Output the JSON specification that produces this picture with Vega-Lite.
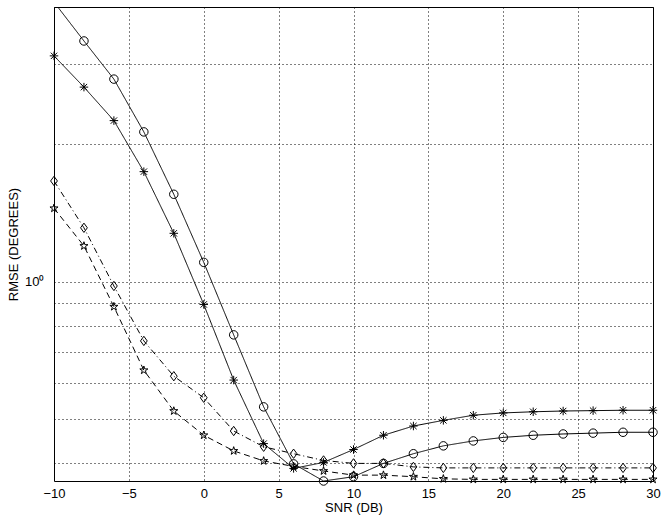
{
  "$schema": "https://vega.github.io/schema/vega-lite/v6.json",
  "width": 599,
  "height": 474,
  "autosize": {"type": "none"},
  "padding": {"left": 54, "top": 7, "right": 9, "bottom": 37},
  "background": "white",
  "config": {
    "view": {"stroke": "black", "strokeWidth": 1},
    "font": "Liberation Sans",
    "axis": {
      "labelFont": "Liberation Sans", "titleFont": "Liberation Sans",
      "labelColor": "black", "titleColor": "black",
      "labelFontSize": 13, "titleFontSize": 13, "titleFontWeight": "normal",
      "tickColor": "black", "tickWidth": 1, "domain": false,
      "gridColor": "black", "gridOpacity": 1, "gridDash": [1, 3], "gridWidth": 1
    }
  },
  "data": {"values": [
    {"series": "P1", "snr": -10, "rmse": 1.449}, {"series": "P1", "snr": -8, "rmse": 1.198}, {"series": "P1", "snr": -6, "rmse": 0.882},
    {"series": "P1", "snr": -4, "rmse": 0.64}, {"series": "P1", "snr": -2, "rmse": 0.521}, {"series": "P1", "snr": 0, "rmse": 0.461},
    {"series": "P1", "snr": 2, "rmse": 0.426}, {"series": "P1", "snr": 4, "rmse": 0.405}, {"series": "P1", "snr": 6, "rmse": 0.394},
    {"series": "P1", "snr": 8, "rmse": 0.385}, {"series": "P1", "snr": 10, "rmse": 0.377}, {"series": "P1", "snr": 12, "rmse": 0.377},
    {"series": "P1", "snr": 14, "rmse": 0.374}, {"series": "P1", "snr": 16, "rmse": 0.370}, {"series": "P1", "snr": 18, "rmse": 0.369},
    {"series": "P1", "snr": 20, "rmse": 0.369}, {"series": "P1", "snr": 22, "rmse": 0.369}, {"series": "P1", "snr": 24, "rmse": 0.369},
    {"series": "P1", "snr": 26, "rmse": 0.369}, {"series": "P1", "snr": 28, "rmse": 0.369}, {"series": "P1", "snr": 30, "rmse": 0.369},
    {"series": "P2", "snr": -10, "rmse": 1.663}, {"series": "P2", "snr": -8, "rmse": 1.313}, {"series": "P2", "snr": -6, "rmse": 0.979},
    {"series": "P2", "snr": -4, "rmse": 0.742}, {"series": "P2", "snr": -2, "rmse": 0.621}, {"series": "P2", "snr": 0, "rmse": 0.557},
    {"series": "P2", "snr": 2, "rmse": 0.471}, {"series": "P2", "snr": 4, "rmse": 0.435}, {"series": "P2", "snr": 6, "rmse": 0.420},
    {"series": "P2", "snr": 8, "rmse": 0.406}, {"series": "P2", "snr": 10, "rmse": 0.400}, {"series": "P2", "snr": 12, "rmse": 0.400},
    {"series": "P2", "snr": 14, "rmse": 0.393}, {"series": "P2", "snr": 16, "rmse": 0.391}, {"series": "P2", "snr": 18, "rmse": 0.391},
    {"series": "P2", "snr": 20, "rmse": 0.391}, {"series": "P2", "snr": 22, "rmse": 0.391}, {"series": "P2", "snr": 24, "rmse": 0.391},
    {"series": "P2", "snr": 26, "rmse": 0.391}, {"series": "P2", "snr": 28, "rmse": 0.391}, {"series": "P2", "snr": 30, "rmse": 0.391},
    {"series": "E1", "snr": -10, "rmse": 3.126}, {"series": "E1", "snr": -8, "rmse": 2.67}, {"series": "E1", "snr": -6, "rmse": 2.255},
    {"series": "E1", "snr": -4, "rmse": 1.743}, {"series": "E1", "snr": -2, "rmse": 1.277}, {"series": "E1", "snr": 0, "rmse": 0.892},
    {"series": "E1", "snr": 2, "rmse": 0.609}, {"series": "E1", "snr": 4, "rmse": 0.442}, {"series": "E1", "snr": 6, "rmse": 0.390},
    {"series": "E1", "snr": 8, "rmse": 0.402}, {"series": "E1", "snr": 10, "rmse": 0.429}, {"series": "E1", "snr": 12, "rmse": 0.461},
    {"series": "E1", "snr": 14, "rmse": 0.483}, {"series": "E1", "snr": 16, "rmse": 0.497}, {"series": "E1", "snr": 18, "rmse": 0.510},
    {"series": "E1", "snr": 20, "rmse": 0.516}, {"series": "E1", "snr": 22, "rmse": 0.519}, {"series": "E1", "snr": 24, "rmse": 0.521},
    {"series": "E1", "snr": 26, "rmse": 0.522}, {"series": "E1", "snr": 28, "rmse": 0.523}, {"series": "E1", "snr": 30, "rmse": 0.523},
    {"series": "E2", "snr": -10, "rmse": 4.1}, {"series": "E2", "snr": -8, "rmse": 3.37}, {"series": "E2", "snr": -6, "rmse": 2.78},
    {"series": "E2", "snr": -4, "rmse": 2.13}, {"series": "E2", "snr": -2, "rmse": 1.555}, {"series": "E2", "snr": 0, "rmse": 1.103},
    {"series": "E2", "snr": 2, "rmse": 0.765}, {"series": "E2", "snr": 4, "rmse": 0.532}, {"series": "E2", "snr": 6, "rmse": 0.399},
    {"series": "E2", "snr": 8, "rmse": 0.366}, {"series": "E2", "snr": 10, "rmse": 0.374}, {"series": "E2", "snr": 12, "rmse": 0.400},
    {"series": "E2", "snr": 14, "rmse": 0.420}, {"series": "E2", "snr": 16, "rmse": 0.437}, {"series": "E2", "snr": 18, "rmse": 0.448},
    {"series": "E2", "snr": 20, "rmse": 0.456}, {"series": "E2", "snr": 22, "rmse": 0.461}, {"series": "E2", "snr": 24, "rmse": 0.464},
    {"series": "E2", "snr": 26, "rmse": 0.466}, {"series": "E2", "snr": 28, "rmse": 0.468}, {"series": "E2", "snr": 30, "rmse": 0.468}
  ]},
  "encoding": {
    "x": {"field": "snr", "type": "quantitative",
      "scale": {"domain": [-10, 30], "nice": false, "zero": false},
      "axis": {"values": [-10, -5, 0, 5, 10, 15, 20, 25, 30], "title": "SNR (DB)", "grid": true,
        "ticks": false, "labelPadding": 6, "titlePadding": 1, "labelFlush": false}},
    "y": {"field": "rmse", "type": "quantitative",
      "scale": {"type": "log", "domain": [0.366, 4], "nice": false},
      "axis": {"values": [0.4, 0.5, 0.6, 0.7, 0.8, 0.9, 1, 2, 3, 4], "labelExpr": "datum.value == 1 ? '10⁰' : ''",
        "title": "RMSE (DEGREES)", "grid": true, "ticks": false, "labelPadding": 10, "titlePadding": 4}}
  },
  "layer": [
    {
      "mark": {"type": "line", "color": "black", "strokeWidth": 1, "clip": true},
      "encoding": {
        "strokeDash": {"field": "series", "type": "nominal",
          "scale": {"domain": ["P1", "P2", "E1", "E2"], "range": [[6, 4], [6, 3, 1, 3], [1, 0], [1, 0]]},
          "legend": null}
      }
    },
    {
      "transform": [{"filter": "datum.rmse <= 4"}],
      "mark": {"type": "point", "filled": false, "color": "black", "strokeWidth": 1, "size": 72, "opacity": 1, "clip": false},
      "encoding": {
        "shape": {"field": "series", "type": "nominal",
          "scale": {"domain": ["P1", "P2", "E1", "E2"], "range": [
            "M0,-1L0.2245,-0.309L0.951,-0.309L0.363,0.118L0.588,0.809L0,0.382L-0.588,0.809L-0.363,0.118L-0.951,-0.309L-0.2245,-0.309Z",
            "M-0.8,0L0,-1.1L0.8,0L0,1.1Z",
            "M-1,0L1,0M0,-1L0,1M-0.75,-0.75L0.75,0.75M-0.75,0.75L0.75,-0.75",
            "M1,0A1,1,0,1,1,-1,0A1,1,0,1,1,1,0Z"
          ]},
          "legend": {
            "disable": false,
            "orient": "none", "legendX": 132, "legendY": 7, "title": null, "direction": "vertical",
            "strokeColor": "black", "fillColor": "white", "padding": 4,
            "labelFont": "Liberation Sans", "labelFontSize": 13.3, "labelColor": "black", "labelLimit": 400,
            "symbolSize": 49, "labelOffset": 14, "rowPadding": 2.4,
            "labelExpr": "datum.value == 'P1' ? 'PROPOSED METHOD, FIRST SOURCE' : datum.value == 'P2' ? 'PROPOSED METHOD, SECOND SOURCE' : datum.value == 'E1' ? 'ESPRIT-BASED METHOD, FIRST SOURCE' : 'ESPRIT-BASED METHOD, SECOND SOURCE'",
            "encode": {"symbols": {"shape": {"signal": "datum.value == 'P1' ? 'M-2.5,0L-1.1,0M1.1,0L2.5,0M0,-1L0.2245,-0.309L0.951,-0.309L0.363,0.118L0.588,0.809L0,0.382L-0.588,0.809L-0.363,0.118L-0.951,-0.309L-0.2245,-0.309Z' : datum.value == 'P2' ? 'M-2.3,0L-2,0M2,0L2.3,0M-0.8,0L0,-1.1L0.8,0L0,1.1Z' : datum.value == 'E1' ? 'M-2.5,0L2.5,0M0,-1L0,1M-0.75,-0.75L0.75,0.75M-0.75,0.75L0.75,-0.75' : 'M-2.5,0L-1,0M1,0L2.5,0M1,0A1,1,0,1,1,-1,0A1,1,0,1,1,1,0Z'"}}}
          }
        }
      }
    }
  ]
}
